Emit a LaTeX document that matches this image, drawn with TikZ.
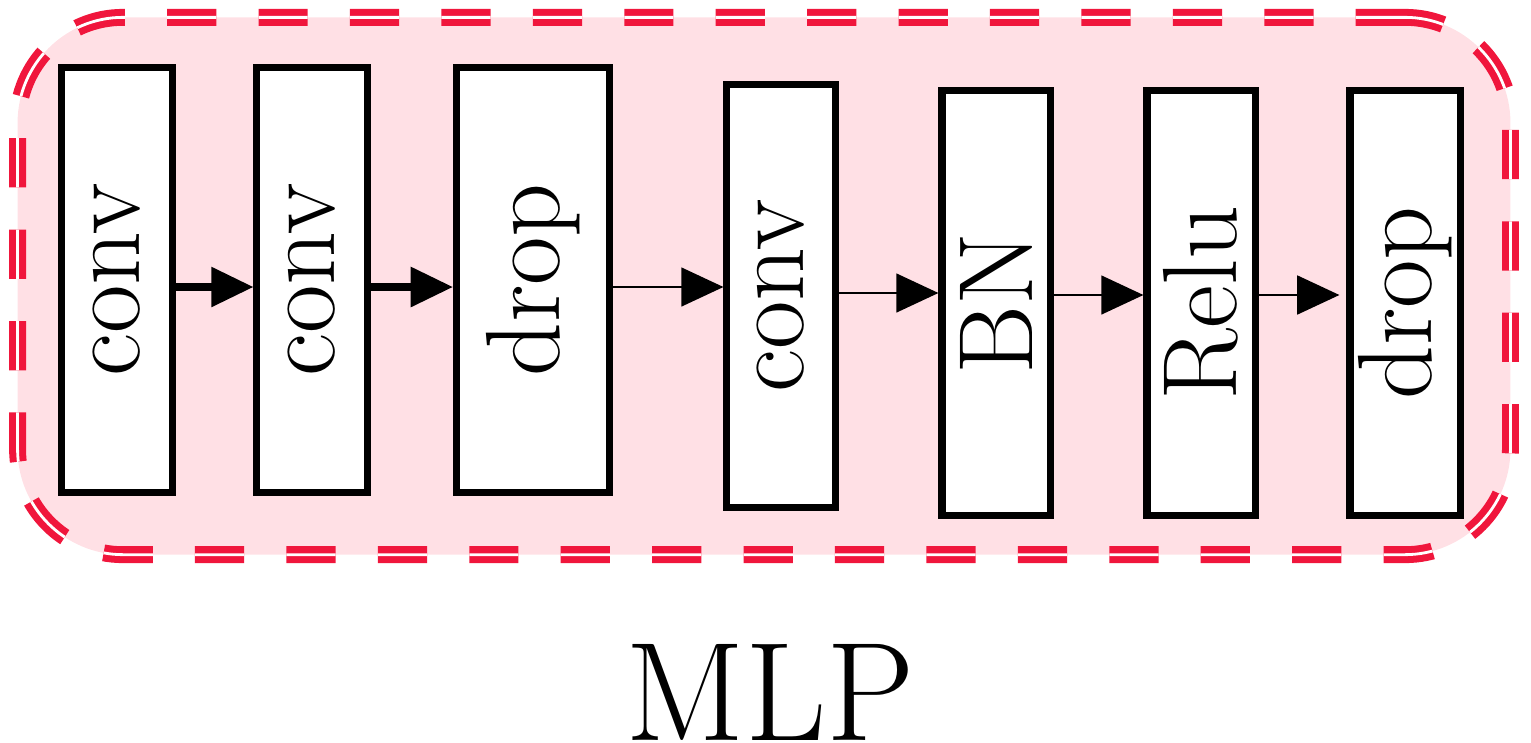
\documentclass[tikz,border=0pt]{standalone}
\usetikzlibrary{arrows.meta}
\definecolor{MlpRed}{HTML}{F0163C}
\definecolor{MlpPink}{HTML}{FFE0E5}

\begin{document}
\begin{tikzpicture}[x=0.01cm, y=-0.01cm,
    layer/.style={draw, line width=2pt, fill=white, inner sep=0pt, font=\fontsize{30}{31}\selectfont},
    flow/.style={-{Triangle[length=12pt, width=11pt]}, line width=0.8pt}]
    \useasboundingbox (0,0) rectangle (1531,742);
    % frame around the block
    \node[draw=MlpRed, double=white, double distance=0.8pt, line width=2pt, dash pattern=on 14pt off 12pt,
          fill=MlpPink, rounded corners=30pt, minimum width=14.92cm, minimum height=5.37cm] (frame) at (764,286) {};
    % layers
    \node[layer, minimum width=1.10cm, minimum height=4.25cm] (conv1) at (117,280) {\rotatebox{90}{conv}};
    \node[layer, minimum width=1.10cm, minimum height=4.25cm] (conv2) at (312,280) {\rotatebox{90}{conv}};
    \node[layer, minimum width=1.53cm, minimum height=4.25cm] (drop1) at (533,280) {\rotatebox{90}{drop}};
    \node[layer, minimum width=1.08cm, minimum height=4.23cm] (conv3) at (781,296) {\rotatebox{90}{conv}};
    \node[layer, minimum width=1.08cm, minimum height=4.25cm] (bn) at (996,303) {\rotatebox{90}{BN}};
    \node[layer, minimum width=1.08cm, minimum height=4.25cm] (relu) at (1201,303) {\rotatebox{90}{Relu}};
    \node[layer, minimum width=1.10cm, minimum height=4.25cm] (drop2) at (1405,303) {\rotatebox{90}{drop}};
    % connections
    \draw[flow, line width=2pt] (conv1.east |- 0,287) -- (conv2.west |- 0,287);
    \draw[flow, line width=2pt] (conv2.east |- 0,287) -- (drop1.west |- 0,287);
    \draw[flow] (drop1.east |- 0,287) -- (conv3.west |- 0,287);
    \draw[flow] (conv3.east |- 0,293) -- (bn.west |- 0,293);
    \draw[flow] (bn.east |- 0,295) -- (relu.west |- 0,295);
    \draw[flow] (relu.east |- 0,295) -- ([xshift=-2pt]drop2.west |- 0,295);
    % caption
    \node[font=\fontsize{40}{42}\selectfont] (title) at (770,692) {MLP};
\end{tikzpicture}
\end{document}
